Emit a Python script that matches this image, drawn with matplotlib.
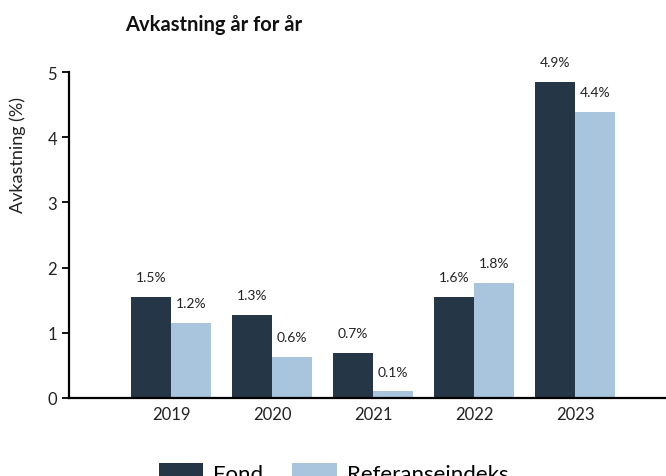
import matplotlib.pyplot as plt
import numpy as np

years = ['2019', '2020', '2021', '2022', '2023']
fond = [1.55, 1.27, 0.69, 1.55, 4.85]
referanse = [1.15, 0.63, 0.10, 1.76, 4.39]
fond_labels = ['1.5%', '1.3%', '0.7%', '1.6%', '4.9%']
ref_labels = ['1.2%', '0.6%', '0.1%', '1.8%', '4.4%']

plt.rcParams['font.family'] = ['Lato', 'DejaVu Sans']

fig = plt.figure(figsize=(6.66, 4.77), dpi=100)
ax = fig.add_axes([69 / 666, 78 / 477, 1 - 69 / 666, 326 / 477])

x = np.arange(len(years))
w = 0.4
b1 = ax.bar(x - w / 2, fond, w, color='#253746', label='Fond')
b2 = ax.bar(x + w / 2, referanse, w, color='#a9c4dd', label='Referanseindeks')

# verdietiketter over stolpene
for bars, labels in ((b1, fond_labels), (b2, ref_labels)):
    for bar, lab in zip(bars, labels):
        ax.annotate(lab, (bar.get_x() + bar.get_width() / 2, bar.get_height()),
                    xytext=(0, 10), textcoords='offset points',
                    ha='center', va='bottom', fontsize=10, color='#222222')

ax.set_xlim(-1.01, 4.90)
ax.set_ylim(0, 5)
ax.set_xticks(x)
ax.set_xticklabels(years, fontsize=12, color='#222222')
ax.set_yticks(range(6))
ax.tick_params(axis='y', labelsize=12, labelcolor='#222222', length=5, width=1.3)
ax.tick_params(axis='x', length=0, pad=6)
for s in ('top', 'right'):
    ax.spines[s].set_visible(False)
for s in ('left', 'bottom'):
    ax.spines[s].set_linewidth(1.6)

fig.text(125 / 666, 1 - 25 / 477, 'Avkastning år for år', fontsize=14.5,
         fontweight='bold', va='center', ha='left', color='#111111')
fig.text(18 / 666, 1 - 155 / 477, 'Avkastning (%)', fontsize=13, rotation=90,
         va='center', ha='center', color='#222222')

fig.legend(loc='upper left', bbox_to_anchor=(150 / 666, 22 / 477), ncol=2,
           frameon=False, fontsize=16, handlelength=2.0, handleheight=0.9,
           handletextpad=0.45, columnspacing=1.3, borderaxespad=0)

fig.savefig('out.png', dpi=100)
